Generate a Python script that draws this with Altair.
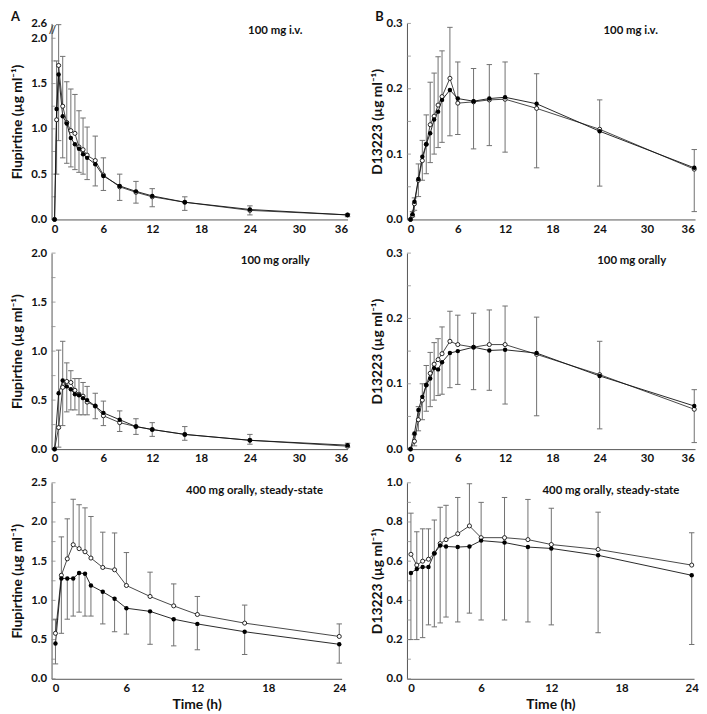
import altair as alt
import pandas as pd

# ---------------- data ----------------
# Panel A1: flupirtine, 100 mg i.v.
T_IV = [0, 0.25, 0.5, 1, 1.5, 2, 2.5, 3, 3.5, 4, 5, 6, 8, 10, 12, 16, 24, 36]
A1_open = [0, 1.10, 1.70, 1.25, 1.07, 0.98, 0.95, 0.80, 0.77, 0.71, 0.65, 0.49, 0.36, 0.30, 0.25, 0.19, 0.10, 0.05]
A1_filled = [0, 1.22, 1.60, 1.14, 1.06, 0.90, 0.83, 0.78, 0.72, 0.68, 0.61, 0.48, 0.37, 0.31, 0.26, 0.19, 0.11, 0.05]
A1_open_hi = [None, 1.75, 2.55, 1.80, 1.52, 1.44, 1.38, 1.20, 1.12, 1.02, 0.92, 0.68, 0.50, 0.42, 0.34, 0.25, 0.15, 0.06]
A1_filled_lo = [None, 0.50, 0.87, 0.68, 0.62, 0.58, 0.55, 0.52, 0.50, 0.44, 0.37, 0.32, 0.21, 0.18, 0.14, 0.10, 0.05, 0.03]

# Panel B1: D13223, 100 mg i.v.
B1_open = [0, 0.006, 0.024, 0.060, 0.090, 0.115, 0.145, 0.158, 0.175, 0.188, 0.216, 0.178, 0.180, 0.183, 0.184, 0.170, 0.138, 0.077]
B1_filled = [0, 0.008, 0.027, 0.062, 0.096, 0.115, 0.132, 0.153, 0.165, 0.183, 0.198, 0.185, 0.181, 0.185, 0.187, 0.177, 0.135, 0.079]
B1_open_hi = [None, 0.012, 0.033, 0.085, 0.121, 0.160, 0.210, 0.224, 0.249, 0.258, 0.294, 0.241, 0.231, 0.237, 0.241, 0.223, 0.183, 0.107]
B1_filled_lo = [None, 0.004, 0.014, 0.035, 0.060, 0.070, 0.087, 0.100, 0.110, 0.118, 0.128, 0.130, 0.108, 0.113, 0.103, 0.079, 0.051, 0.012]

# Panel A2: flupirtine, 100 mg orally
T_PO = [0, 0.5, 1, 1.5, 2, 2.5, 3, 3.5, 4, 5, 6, 8, 10, 12, 16, 24, 36]
A2_open = [0, 0.22, 0.63, 0.69, 0.68, 0.60, 0.56, 0.54, 0.48, 0.44, 0.34, 0.27, 0.23, 0.20, 0.15, 0.09, 0.03]
A2_filled = [0, 0.57, 0.70, 0.64, 0.61, 0.56, 0.55, 0.52, 0.50, 0.44, 0.37, 0.30, 0.23, 0.20, 0.15, 0.09, 0.04]
A2_open_hi = [None, 1.01, 1.10, 0.88, 0.80, 0.72, 0.72, 0.68, 0.64, 0.57, 0.49, 0.39, 0.31, 0.27, 0.23, 0.15, 0.06]
A2_filled_lo = [None, 0.02, 0.24, 0.38, 0.40, 0.40, 0.35, 0.35, 0.35, 0.31, 0.24, 0.18, 0.15, 0.13, 0.09, 0.05, 0.02]

# Panel B2: D13223, 100 mg orally
B2_open = [0, 0.012, 0.045, 0.075, 0.098, 0.116, 0.130, 0.137, 0.146, 0.165, 0.160, 0.156, 0.160, 0.160, 0.145, 0.114, 0.061]
B2_filled = [0, 0.024, 0.060, 0.080, 0.098, 0.108, 0.124, 0.122, 0.133, 0.147, 0.150, 0.156, 0.151, 0.152, 0.147, 0.112, 0.066]
B2_open_hi = [None, 0.022, 0.065, 0.100, 0.128, 0.148, 0.163, 0.169, 0.187, 0.211, 0.205, 0.208, 0.213, 0.219, 0.202, 0.165, 0.091]
B2_filled_lo = [None, 0.005, 0.028, 0.045, 0.058, 0.065, 0.075, 0.082, 0.084, 0.094, 0.099, 0.091, 0.090, 0.069, 0.051, 0.031, 0.010]

# Panel A3: flupirtine, 400 mg orally, steady-state
T_SS = [0, 0.5, 1, 1.5, 2, 2.5, 3, 4, 5, 6, 8, 10, 12, 16, 24]
A3_open = [0.58, 1.32, 1.53, 1.71, 1.66, 1.62, 1.54, 1.42, 1.39, 1.19, 1.05, 0.93, 0.82, 0.71, 0.54]
A3_filled = [0.45, 1.28, 1.28, 1.28, 1.35, 1.34, 1.19, 1.11, 1.02, 0.90, 0.86, 0.76, 0.70, 0.60, 0.44]
A3_open_hi = [0.76, 1.81, 2.04, 2.29, 2.22, 2.18, 2.07, 1.87, 1.86, 1.61, 1.36, 1.21, 1.05, 0.94, 0.70]
A3_filled_lo = [0.19, 0.58, 0.76, 0.80, 0.85, 0.80, 0.80, 0.70, 0.60, 0.57, 0.44, 0.42, 0.37, 0.31, 0.20]

# Panel B3: D13223, 400 mg orally, steady-state
B3_open = [0.635, 0.58, 0.60, 0.61, 0.64, 0.69, 0.71, 0.74, 0.78, 0.72, 0.72, 0.71, 0.685, 0.66, 0.58]
B3_filled = [0.54, 0.56, 0.57, 0.57, 0.64, 0.68, 0.675, 0.672, 0.675, 0.705, 0.695, 0.672, 0.665, 0.63, 0.528]
B3_open_hi = [0.845, 0.75, 0.765, 0.765, 0.81, 0.875, 0.885, 0.925, 0.995, 0.90, 0.925, 0.915, 0.87, 0.85, 0.745]
B3_filled_lo = [0.20, 0.20, 0.21, 0.275, 0.265, 0.285, 0.315, 0.29, 0.335, 0.30, 0.30, 0.29, 0.275, 0.235, 0.175]

# tick values
X_TICKS_36 = [0, 6, 12, 18, 24, 30, 36]
X_MINOR_36 = [0, 2, 4, 6, 8, 10, 12, 14, 16, 18, 20, 22, 24, 26, 28, 30, 32, 34, 36]
X_TICKS_24 = [0, 6, 12, 18, 24]
X_MINOR_24 = [0, 2, 4, 6, 8, 10, 12, 14, 16, 18, 20, 22, 24]
Y_TICKS_A1 = [0, 0.5, 1.0, 1.5, 2.0, 2.6]
Y_MINOR_A1 = [0, 0.25, 0.5, 0.75, 1.0, 1.25, 1.5, 1.75, 2.0]
Y_TICKS_A2 = [0, 0.5, 1.0, 1.5, 2.0]
Y_MINOR_A2 = [0, 0.25, 0.5, 0.75, 1.0, 1.25, 1.5, 1.75, 2.0]
Y_TICKS_A3 = [0, 0.5, 1.0, 1.5, 2.0, 2.5]
Y_MINOR_A3 = [0, 0.25, 0.5, 0.75, 1.0, 1.25, 1.5, 1.75, 2.0, 2.25, 2.5]
Y_TICKS_B = [0, 0.1, 0.2, 0.3]
Y_MINOR_B = [0, 0.05, 0.1, 0.15, 0.2, 0.25, 0.3]
Y_TICKS_B3 = [0, 0.2, 0.4, 0.6, 0.8, 1.0]
Y_MINOR_B3 = [0, 0.1, 0.2, 0.3, 0.4, 0.5, 0.6, 0.7, 0.8, 0.9, 1.0]

TITLE_A = "Flupirtine (µg ml⁻¹)"
TITLE_B = "D13223 (µg ml⁻¹)"

FONT = "Lato"
H = 198
BAR = "#707070"
TICKC = "#8a8a8a"


def panel(T, op, fi, ohi, flo, ydom, yvals, yminor, ytitle, tpad, xdom, xvals, xminor,
          width, label, label_x, xtitle=None, yrange=None, letter=None, letter_x=-40, brk=False):
    df = pd.DataFrame({"t": T, "open": op, "filled": fi, "open_hi": ohi, "filled_lo": flo})
    base = alt.Chart(df)
    if yrange is not None:
        ysc = alt.Scale(domain=ydom, range=yrange, nice=False, zero=False)
    else:
        ysc = alt.Scale(domain=ydom, nice=False, zero=False)
    xsc = alt.Scale(domain=xdom, nice=False, zero=False)
    xax = alt.Axis(values=xvals, format="d", title=xtitle, labelPadding=4, titlePadding=4)
    yax = alt.Axis(values=yvals, format=".1f", title=ytitle, labelPadding=5, titlePadding=tpad)
    X = alt.X("t:Q", scale=xsc, axis=xax)

    bar_up = base.transform_filter("isValid(datum.open_hi)").mark_rule(color=BAR, strokeWidth=1).encode(
        x=X, y=alt.Y("open:Q", scale=ysc, axis=yax), y2="open_hi:Q")
    cap_up = base.transform_filter("isValid(datum.open_hi)").mark_point(
        shape="M-1,0L1,0", size=30, filled=False, color=BAR, strokeWidth=1, opacity=1).encode(
        x=X, y=alt.Y("open_hi:Q", scale=ysc, axis=yax))
    bar_dn = base.transform_filter("isValid(datum.filled_lo)").mark_rule(color=BAR, strokeWidth=1).encode(
        x=X, y=alt.Y("filled:Q", scale=ysc, axis=yax), y2="filled_lo:Q")
    cap_dn = base.transform_filter("isValid(datum.filled_lo)").mark_point(
        shape="M-1,0L1,0", size=30, filled=False, color=BAR, strokeWidth=1, opacity=1).encode(
        x=X, y=alt.Y("filled_lo:Q", scale=ysc, axis=yax))
    line_o = base.mark_line(color="#333", strokeWidth=0.9).encode(
        x=X, y=alt.Y("open:Q", scale=ysc, axis=yax))
    line_f = base.mark_line(color="#111", strokeWidth=0.9).encode(
        x=X, y=alt.Y("filled:Q", scale=ysc, axis=yax))
    pt_o = base.mark_point(shape="circle", size=17, filled=True, fill="white", stroke="#111",
                           strokeWidth=0.9, opacity=1).encode(
        x=X, y=alt.Y("open:Q", scale=ysc, axis=yax))
    pt_f = base.mark_point(shape="circle", size=20, filled=True, color="#000", opacity=1).encode(
        x=X, y=alt.Y("filled:Q", scale=ysc, axis=yax))

    ytick_df = pd.DataFrame({"v": yminor})
    yt = alt.Chart(ytick_df).mark_rule(color=TICKC, strokeWidth=0.8).encode(
        y=alt.Y("v:Q", scale=ysc, axis=yax), x=alt.value(0), x2=alt.value(4))
    xtick_df = pd.DataFrame({"v": xminor})
    xt = alt.Chart(xtick_df).mark_rule(color=TICKC, strokeWidth=0.8).encode(
        x=X, y=alt.value(H), y2=alt.value(H - 4))

    lab = alt.Chart(pd.DataFrame({"s": [label]})).mark_text(
        font=FONT, fontWeight="bold", fontSize=11.5, color="#111", align="center", baseline="middle").encode(
        text="s:N", x=alt.value(label_x), y=alt.value(8))

    layers = [xt, yt, bar_up, cap_up, bar_dn, cap_dn, line_o, line_f, pt_o, pt_f, lab]
    if letter is not None:
        layers.append(alt.Chart(pd.DataFrame({"s": [letter]})).mark_text(
            font=FONT, fontWeight="bold", fontSize=13, color="#111", align="left", baseline="top").encode(
            text="s:N", x=alt.value(letter_x), y=alt.value(-12)))
    if brk:
        layers.append(alt.Chart(pd.DataFrame({"s": ["//"]})).mark_text(
            font=FONT, fontWeight="bold", fontSize=11, color="#444", align="center", baseline="middle").encode(
            text="s:N", x=alt.value(1), y=alt.value(8)))
    return alt.layer(*layers).properties(width=width, height=H)


pA1 = panel(T_IV, A1_open, A1_filled, A1_open_hi, A1_filled_lo, [0, 2.0, 2.6], Y_TICKS_A1, Y_MINOR_A1,
            TITLE_A, 6, [-0.37, 36], X_TICKS_36, X_MINOR_36, 299, "100 mg i.v.", 226,
            yrange=[H, 15, 0], letter="A", letter_x=-41, brk=True)
pB1 = panel(T_IV, B1_open, B1_filled, B1_open_hi, B1_filled_lo, [0, 0.3], Y_TICKS_B, Y_MINOR_B,
            TITLE_B, 2, [-0.45, 36.1], X_TICKS_36, X_MINOR_36, 291, "100 mg i.v.", 226,
            letter="B", letter_x=-32)
pA2 = panel(T_PO, A2_open, A2_filled, A2_open_hi, A2_filled_lo, [0, 2.0], Y_TICKS_A2, Y_MINOR_A2,
            TITLE_A, 6, [-0.37, 36], X_TICKS_36, X_MINOR_36, 299, "100 mg orally", 226)
pB2 = panel(T_PO, B2_open, B2_filled, B2_open_hi, B2_filled_lo, [0, 0.3], Y_TICKS_B, Y_MINOR_B,
            TITLE_B, 2, [-0.45, 36.1], X_TICKS_36, X_MINOR_36, 291, "100 mg orally", 227)
pA3 = panel(T_SS, A3_open, A3_filled, A3_open_hi, A3_filled_lo, [0, 2.5], Y_TICKS_A3, Y_MINOR_A3,
            TITLE_A, 6, [-0.33, 24.2], X_TICKS_24, X_MINOR_24, 293, "400 mg orally, steady-state", 205,
            xtitle="Time (h)")
pB3 = panel(T_SS, B3_open, B3_filled, B3_open_hi, B3_filled_lo, [0, 1.0], Y_TICKS_B3, Y_MINOR_B3,
            TITLE_B, 2, [-0.34, 24.2], X_TICKS_24, X_MINOR_24, 290, "400 mg orally, steady-state", 206,
            xtitle="Time (h)")

chart = alt.concat(pA1, pB1, pA2, pB2, pA3, pB3, columns=2,
                   spacing=alt.RowColnumber(row=34, column=60), bounds="flush").configure_view(
    strokeWidth=0).configure_axis(
    labelFont=FONT, labelFontWeight="bold", labelFontSize=11.5, labelColor="#111",
    titleFont=FONT, titleFontWeight="bold", titleFontSize=14, titleColor="#111",
    domainColor="#555", domainWidth=1, ticks=False, grid=False).properties(
    padding={"left": 2, "top": 0, "right": 0, "bottom": 0})

chart.save("out.html", embed_options={"renderer": "svg", "actions": False})
